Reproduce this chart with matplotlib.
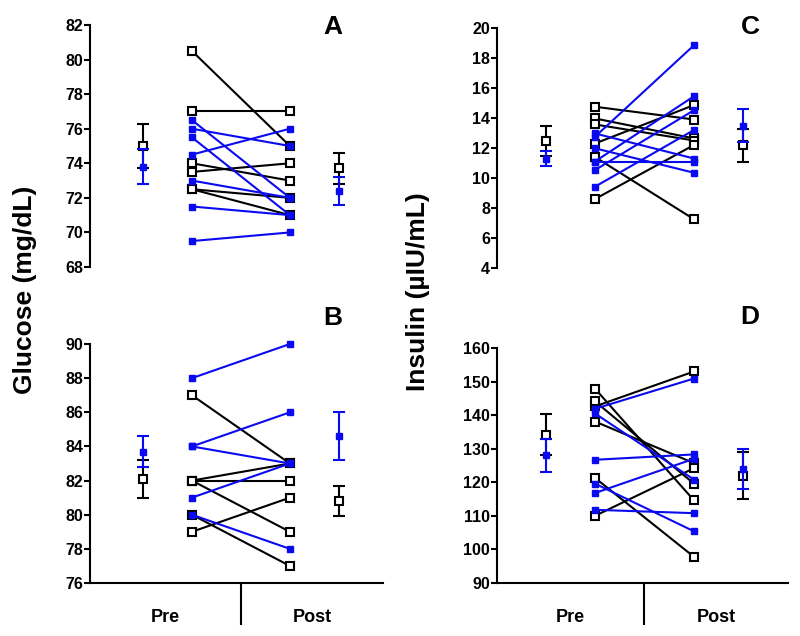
import matplotlib
matplotlib.use('Agg')
import matplotlib.pyplot as plt

plt.rcParams['font.family'] = ['Liberation Sans', 'DejaVu Sans']
plt.rcParams['font.weight'] = 'bold'

BLUE = '#0a0af0'

# Panel A: glucose, top
a_black_pre = [80.5, 77, 74, 73.5, 72.5, 72.5]
a_black_post = [75, 77, 73, 74, 72, 71]
a_blue_pre = [76.5, 76, 75.5, 74.5, 73, 71.5, 69.5]
a_blue_post = [72, 75, 71, 76, 72, 71, 70]
a_black_mean = [75.0, 73.7]
a_black_se = [1.3, 0.9]
a_blue_mean = [73.8, 72.4]
a_blue_se = [1.0, 0.8]

# Panel B: glucose, bottom
b_black_pre = [87, 82, 82, 82, 79, 80]
b_black_post = [83, 83, 82, 79, 81, 77]
b_blue_pre = [88, 84, 84, 81, 80]
b_blue_post = [90, 86, 83, 83, 78]
b_black_mean = [82.1, 80.8]
b_black_se = [1.1, 0.9]
b_blue_mean = [83.7, 84.6]
b_blue_se = [0.9, 1.4]

# Panel C: insulin, top
c_black_pre = [14.75, 13.97, 13.57, 12.3, 11.4, 8.6]
c_black_post = [13.9, 12.64, 12.5, 14.86, 7.25, 12.2]
c_blue_pre = [12.75, 11.1, 10.53, 9.42, 12.97, 11.98, 11.09]
c_blue_post = [18.85, 15.45, 14.52, 13.2, 11.3, 10.35, 11.09]
c_black_mean = [12.5, 12.2]
c_black_se = [1.0, 1.1]
c_blue_mean = [11.3, 13.5]
c_blue_se = [0.5, 1.1]

# Panel D: insulin, bottom
d_black_pre = [142.6, 147.9, 144.1, 138.1, 121.3, 110.0]
d_black_post = [153.0, 114.6, 119.6, 125.7, 97.8, 124.2]
d_blue_pre = [141.9, 140.5, 126.7, 116.8, 119.6, 111.8]
d_blue_post = [150.9, 120.8, 128.3, 127.0, 105.4, 110.8]
d_black_mean = [134.2, 122.0]
d_black_se = [6.0, 7.0]
d_blue_mean = [128.0, 124.0]
d_blue_se = [5.0, 6.0]

fig = plt.figure(figsize=(8, 6.36), dpi=100)


def draw_panel(ax, bpre, bpost, upre, upost, bmean, bse, umean, use, ylim, yticks, xlim, bottom):
    for y0, y1 in zip(bpre, bpost):
        ax.plot([1, 2], [y0, y1], color='black', lw=1.5, marker='s', ms=6,
                mfc='white', mec='black', mew=1.5, zorder=2, clip_on=False)
    for y0, y1 in zip(upre, upost):
        ax.plot([1, 2], [y0, y1], color=BLUE, lw=1.5, marker='s', ms=4.5,
                mfc=BLUE, mec=BLUE, zorder=3, clip_on=False)
    ax.errorbar([0.5, 2.5], bmean, yerr=bse, fmt='s', ms=6, mfc='white', mec='black',
                mew=1.5, ecolor='black', elinewidth=1.5, capsize=4, capthick=1.5, zorder=4)
    ax.errorbar([0.5, 2.5], umean, yerr=use, fmt='s', ms=4.5, mfc=BLUE, mec=BLUE,
                ecolor=BLUE, elinewidth=1.5, capsize=4, capthick=1.5, zorder=5)
    ax.set_ylim(ylim)
    ax.set_yticks(yticks)
    ax.set_xlim(xlim)
    ax.spines['top'].set_visible(False)
    ax.spines['right'].set_visible(False)
    ax.spines['left'].set_linewidth(1.5)
    ax.tick_params(axis='y', width=1.5, length=4, labelsize=11.5, pad=1)
    for lab in ax.get_yticklabels():
        lab.set_fontweight('bold')
    if bottom:
        ax.spines['bottom'].set_linewidth(1.5)
        mid_pre = (xlim[0] + 1.5) / 2
        mid_post = (1.5 + xlim[1]) / 2
        ax.set_xticks([mid_pre, mid_post])
        ax.set_xticklabels(['Pre', 'Post'], fontsize=13, fontweight='bold')
        ax.tick_params(axis='x', which='major', length=0, pad=19)
        ax.set_xticks([1.5], minor=True)
        ax.tick_params(axis='x', which='minor', length=30, width=1.5, direction='out')
    else:
        ax.spines['bottom'].set_visible(False)
        ax.set_xticks([])


left_xlim = (-0.04, 2.95)
right_xlim = (0.01, 2.95)

axA = fig.add_axes([90 / 800, 1 - 267 / 636, 293 / 800, 242 / 636])
draw_panel(axA, a_black_pre, a_black_post, a_blue_pre, a_blue_post,
           a_black_mean, a_black_se, a_blue_mean, a_blue_se,
           (68, 82), range(68, 83, 2), left_xlim, False)

axB = fig.add_axes([90 / 800, 1 - 583 / 636, 293 / 800, 239 / 636])
draw_panel(axB, b_black_pre, b_black_post, b_blue_pre, b_blue_post,
           b_black_mean, b_black_se, b_blue_mean, b_blue_se,
           (76, 90), range(76, 91, 2), left_xlim, True)

axC = fig.add_axes([497 / 800, 1 - 268 / 636, 291 / 800, 240 / 636])
draw_panel(axC, c_black_pre, c_black_post, c_blue_pre, c_blue_post,
           c_black_mean, c_black_se, c_blue_mean, c_blue_se,
           (4, 20), range(4, 21, 2), right_xlim, False)

axD = fig.add_axes([497 / 800, 1 - 583 / 636, 291 / 800, 235 / 636])
draw_panel(axD, d_black_pre, d_black_post, d_blue_pre, d_blue_post,
           d_black_mean, d_black_se, d_blue_mean, d_blue_se,
           (90, 160), range(90, 161, 10), right_xlim, True)

for ax in [axA, axB, axC, axD]:
    ax.patch.set_alpha(0)

# panel letters
fig.text(333 / 800, 1 - 27 / 636, 'A', fontsize=19, fontweight='bold', ha='center', va='center')
fig.text(750 / 800, 1 - 27 / 636, 'C', fontsize=19, fontweight='bold', ha='center', va='center')
fig.text(333 / 800, 1 - 318 / 636, 'B', fontsize=19, fontweight='bold', ha='center', va='center')
fig.text(750 / 800, 1 - 317 / 636, 'D', fontsize=19, fontweight='bold', ha='center', va='center')

# shared y labels
fig.text(25 / 800, 1 - 290 / 636, 'Glucose (mg/dL)', rotation=90, fontsize=19,
         fontweight='bold', ha='center', va='center')
fig.text(418 / 800, 1 - 292 / 636, 'Insulin (\u00b5IU/mL)', rotation=90, fontsize=19,
         fontweight='bold', ha='center', va='center')

fig.savefig('out.png', dpi=100)
